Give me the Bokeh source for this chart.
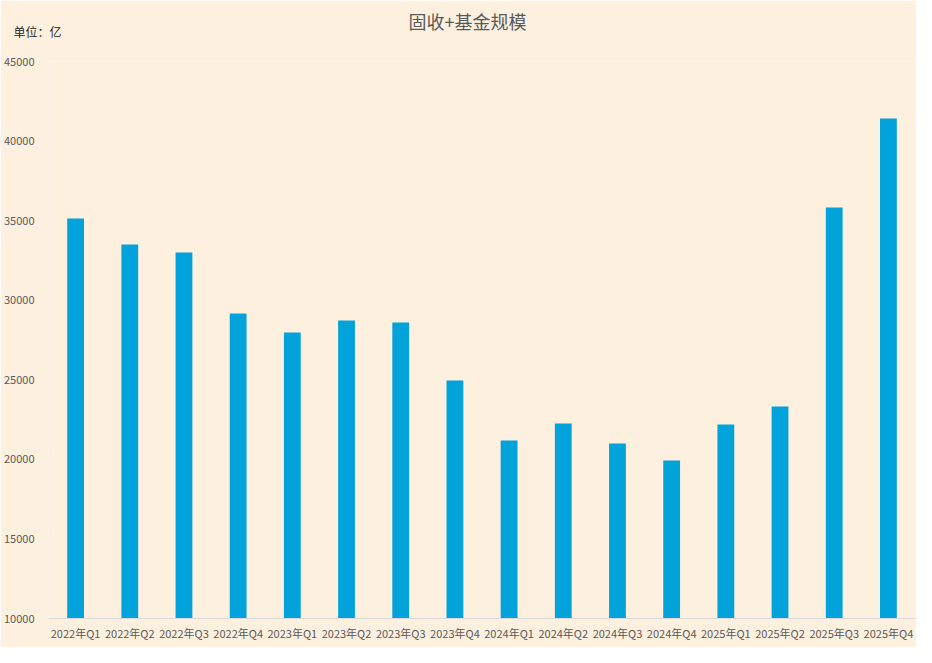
from bokeh.plotting import figure
from bokeh.models import Range1d, FactorRange, FixedTicker, Label, ColumnDataSource
from bokeh.embed import file_html
from bokeh.resources import INLINE

quarters = ["2022年Q1", "2022年Q2", "2022年Q3", "2022年Q4",
            "2023年Q1", "2023年Q2", "2023年Q3", "2023年Q4",
            "2024年Q1", "2024年Q2", "2024年Q3", "2024年Q4",
            "2025年Q1", "2025年Q2", "2025年Q3", "2025年Q4"]
scale_values = [35130, 33500, 33000, 29170, 27970, 28730, 28600, 24960,
                21190, 22250, 21000, 19930, 22190, 23320, 35830, 41420]
y_ticks = [10000, 15000, 20000, 25000, 30000, 35000, 40000, 45000]

title_text = "固收+基金规模"
unit_text = "单位：亿"

FONT = "Noto Sans CJK SC"
BG = "#FDF0DF"
BAR = "#02A2DA"
GREY = "#595959"

src = ColumnDataSource(dict(q=quarters, v=scale_values))

p = figure(width=916, height=647, output_backend="svg", toolbar_location=None,
           x_range=FactorRange(*quarters, range_padding=0),
           y_range=Range1d(y_ticks[0], y_ticks[-1]),
           min_border_left=47, min_border_right=1, min_border_top=61, min_border_bottom=29)

p.background_fill_color = BG
p.border_fill_color = BG
p.outline_line_color = None
p.grid.visible = False

p.vbar(x="q", top="v", bottom=0, width=0.31, source=src, color=BAR, line_color=None)

yax = p.yaxis[0]
yax.ticker = FixedTicker(ticks=y_ticks)
yax.axis_line_color = None
yax.major_tick_line_color = None
yax.minor_tick_line_color = None
yax.major_tick_out = 0
yax.major_label_standoff = 14
yax.major_label_text_font = FONT
yax.major_label_text_font_size = "11px"
yax.major_label_text_color = GREY

xax = p.xaxis[0]
xax.axis_line_color = "#D9D9D9"
xax.major_tick_line_color = None
xax.minor_tick_line_color = None
xax.major_tick_out = 0
xax.major_label_standoff = 6
xax.major_label_text_font = FONT
xax.major_label_text_font_size = "11px"
xax.major_label_text_color = GREY

p.add_layout(Label(x=419, y=41, x_units="screen", y_units="screen", text=title_text,
                   text_align="center", text_baseline="middle", text_font=FONT,
                   text_font_size="18px", text_color=GREY), "above")
p.add_layout(Label(x=-35, y=4, x_units="screen", y_units="screen", text=unit_text,
                   text_align="left", text_baseline="middle", text_font=FONT,
                   text_font_size="12px", text_color="#262626"), "above")

open("out.html", "w").write(file_html(p, INLINE))
